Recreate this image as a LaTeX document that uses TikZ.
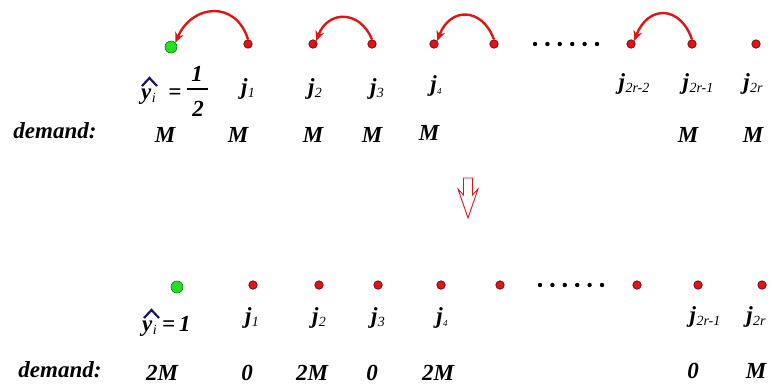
\documentclass[tikz,border=0pt]{standalone}
\usepackage{fontspec}
\setmainfont{Liberation Serif}
\usetikzlibrary{arrows.meta}
\definecolor{dotred}{RGB}{225,20,20}
\definecolor{dotgreen}{RGB}{40,220,40}
\definecolor{hatblue}{RGB}{20,20,110}
\newcommand{\jlab}[1]{\textbf{\textit{j}}\kern0.5pt\raisebox{-0.3ex}{\fontsize{14}{14}\selectfont\mdseries\itshape #1}}
\newcommand{\ysub}{y\kern0.5pt\raisebox{-0.3ex}{\fontsize{14}{14}\selectfont\mdseries\itshape i}}
\begin{document}
\begin{tikzpicture}[x=1pt,y=-1pt,
  lbl/.style={inner sep=0pt, anchor=base, font=\fontsize{23}{26}\selectfont\bfseries\itshape},
  reddot/.style={circle, fill=dotred, draw=black!60!red, line width=0.6pt, minimum size=8.5pt, inner sep=0pt},
  greendot/.style={circle, fill=dotgreen, draw=black!50!green, line width=0.6pt, minimum size=12pt, inner sep=0pt},
  blackdot/.style={circle, fill=black, minimum size=4.4pt, inner sep=0pt},
  hop/.style={draw=dotred, line width=2.4pt, -{Stealth[length=10pt,width=9pt]}},
  hat/.style={draw=hatblue, line width=2.2pt, line join=miter},
  fracbar/.style={line width=1.5pt}]
\useasboundingbox (0,0) rectangle (775,386);

% ---------- upper row: points ----------
\node[greendot] (tg)  at (171,47) {};
\node[reddot]   (t1)  at (248,44) {};
\node[reddot]   (t2)  at (313,44) {};
\node[reddot]   (t3)  at (372,44) {};
\node[reddot]   (t4)  at (434,44) {};
\node[reddot]   (t5)  at (494,44) {};
\node[reddot]   (t6)  at (631,44) {};
\node[reddot]   (t7)  at (692,44) {};
\node[reddot]   (t8)  at (756,44) {};
\foreach \i in {0,...,5} \node[blackdot] (td\i) at (535+12.4*\i,44) {};

% ---------- upper row: moves ----------
\draw[hop] (t1.north) .. controls (236,0) and (192,4) .. (tg.north east);
\draw[hop] (t3.north) .. controls (360,10) and (328,10) .. (t2.north east);
\draw[hop] (t5.north) .. controls (482,7) and (450,7) .. (t4.north east);
\draw[hop] (t7.north) .. controls (680,5) and (648,5) .. (t6.north east);

% ---------- upper row: labels ----------
\node[lbl, anchor=base west] (ty) at (141,99) {\ysub};
\draw[hat] (142,86) -- (149.5,78) -- (157,86);
\node[lbl] (teq) at (175,99) {=};
\node[lbl] (tnum) at (197,81) {1};
\node[lbl] (tden) at (198,116) {2};
\draw[fracbar] (187,89) -- (208,89);
\node[lbl] (tj1) at (248,94) {\jlab{1}};
\node[lbl] (tj2) at (315,94) {\jlab{2}};
\node[lbl] (tj3) at (377,94) {\jlab{3}};
\node[lbl] (tj4) at (436,91) {\jlab{\fontsize{9}{9}\selectfont 4}};
\node[lbl] (tj6) at (634,89) {\jlab{2r-2}};
\node[lbl] (tj7) at (698,89) {\jlab{2r-1}};
\node[lbl] (tj8) at (753,89) {\jlab{2r}};

\node[lbl] (tdem) at (55,138) {demand:};
\node[lbl] (tm0) at (165,142) {M};
\node[lbl] (tm1) at (238,142) {M};
\node[lbl] (tm2) at (313,142) {M};
\node[lbl] (tm3) at (372,142) {M};
\node[lbl] (tm4) at (429,140) {M};
\node[lbl] (tm7) at (688,142) {M};
\node[lbl] (tm8) at (753,142) {M};

% ---------- hollow arrow between the two rows ----------
\draw[dotred, line width=0.9pt, line join=miter]
  (463.5,178) -- (472.5,178) -- (472.5,195) -- (478,189) -- (468,218)
  -- (458,189) -- (463.5,195) -- cycle;

% ---------- lower row: points ----------
\node[greendot] (bg)  at (177,287) {};
\node[reddot]   (b1)  at (253,285) {};
\node[reddot]   (b2)  at (319,285) {};
\node[reddot]   (b3)  at (378,285) {};
\node[reddot]   (b4)  at (441,285) {};
\node[reddot]   (b5)  at (500,285) {};
\node[reddot]   (b6)  at (637,285) {};
\node[reddot]   (b7)  at (698,285) {};
\node[reddot]   (b8)  at (762,285) {};
\foreach \i in {0,...,5} \node[blackdot] (bd\i) at (540+12.4*\i,285) {};

% ---------- lower row: labels ----------
\node[lbl, anchor=base west] (by) at (142,331) {\ysub};
\draw[hat] (144,318) -- (151.5,310) -- (159,318);
\node[lbl, anchor=base west] (beq) at (162,331) {=\,1};
\node[lbl] (bj1) at (252,323) {\jlab{1}};
\node[lbl] (bj2) at (319,323) {\jlab{2}};
\node[lbl] (bj3) at (378,323) {\jlab{3}};
\node[lbl] (bj4) at (442,323) {\jlab{\fontsize{9}{9}\selectfont 4}};
\node[lbl] (bj7) at (705,322) {\jlab{2r-1}};
\node[lbl] (bj8) at (756,322) {\jlab{2r}};

\node[lbl] (bdem) at (60,377) {demand:};
\node[lbl] (bm0) at (162,380) {2M};
\node[lbl] (bm1) at (247,380) {0};
\node[lbl] (bm2) at (312,380) {2M};
\node[lbl] (bm3) at (372,380) {0};
\node[lbl] (bm4) at (438,380) {2M};
\node[lbl] (bm7) at (693,378) {0};
\node[lbl] (bm8) at (756,378) {M};
\end{tikzpicture}
\end{document}
